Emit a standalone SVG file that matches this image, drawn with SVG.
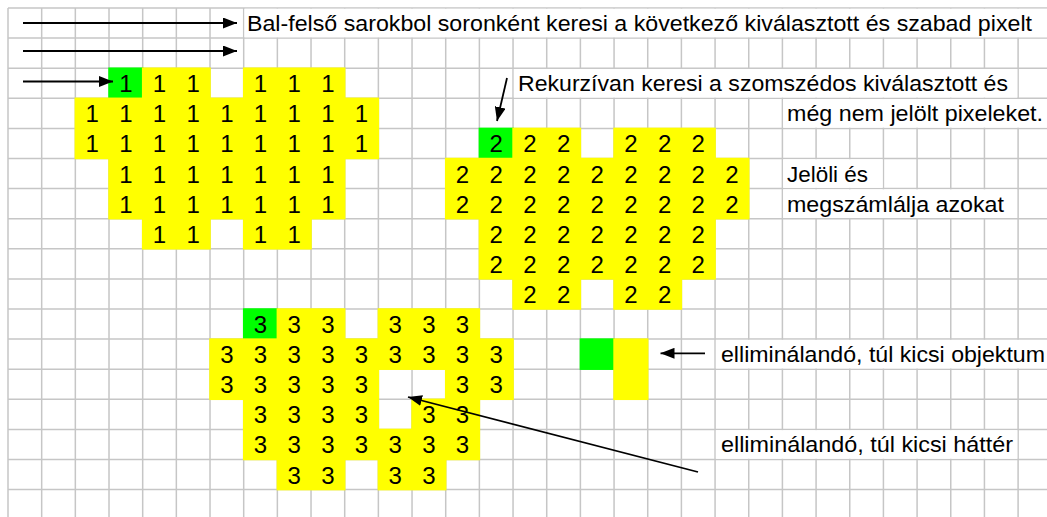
<svg xmlns="http://www.w3.org/2000/svg" width="1047" height="517" viewBox="0 0 1047 517">
<style>
.grid{stroke:#c6c6c6;stroke-width:1.5;fill:none}
.y{fill:#ffff00}
.g{fill:#00ff00}
.box{fill:#ffffff}
.d{font-family:"Liberation Sans",Arial,sans-serif;font-size:24px;fill:#000;text-anchor:middle}
.lbl{font-family:"Liberation Sans",Arial,sans-serif;font-size:22px;fill:#000}
.arr{stroke:#000;stroke-width:1.8;fill:none;marker-end:url(#ah)}
</style>
<defs>
<marker id="ah" markerUnits="userSpaceOnUse" markerWidth="14" markerHeight="11" refX="14" refY="5.5" orient="auto" viewBox="0 0 14 11"><path d="M0,0 L14,5.5 L0,11 Z" fill="#000"/></marker>
</defs>
<rect x="0" y="0" width="1047" height="517" fill="#ffffff"/>
<g id="grid" class="grid">
<path d="M8,8V517M41.67,8V517M75.34,8V517M109.01,8V517M142.68,8V517M176.35,8V517M210.02,8V517M243.69,8V517M277.36,8V517M311.03,8V517M344.7,8V517M378.37,8V517M412.04,8V517M445.71,8V517M479.38,8V517M513.05,8V517M546.72,8V517M580.39,8V517M614.06,8V517M647.73,8V517M681.4,8V517M715.07,8V517M748.74,8V517M782.41,8V517M816.08,8V517M849.75,8V517M883.42,8V517M917.09,8V517M950.76,8V517M984.43,8V517M1018.1,8V517"/>
<path d="M8,8H1047M8,38.1H1047M8,68.2H1047M8,98.3H1047M8,128.4H1047M8,158.5H1047M8,188.6H1047M8,218.7H1047M8,248.8H1047M8,278.9H1047M8,309H1047M8,339.1H1047M8,369.2H1047M8,399.3H1047M8,429.4H1047M8,459.5H1047M8,489.6H1047"/>
</g>
<g id="object1">
<rect class="g" x="108.26" y="67.45" width="35.17" height="31.6"/>
<rect class="y" x="141.93" y="67.45" width="68.84" height="31.6"/>
<rect class="y" x="242.94" y="67.45" width="102.51" height="31.6"/>
<rect class="y" x="74.59" y="97.55" width="304.53" height="61.7"/>
<rect class="y" x="108.26" y="157.75" width="237.19" height="61.7"/>
<rect class="y" x="141.93" y="217.95" width="68.84" height="31.6"/>
<rect class="y" x="242.94" y="217.95" width="68.84" height="31.6"/>
<text class="d" x="125.85" y="92.2">1</text><text class="d" x="159.52" y="92.2">1</text><text class="d" x="193.19" y="92.2">1</text><text class="d" x="260.53" y="92.2">1</text><text class="d" x="294.2" y="92.2">1</text><text class="d" x="327.87" y="92.2">1</text>
<text class="d" x="92.17" y="122.3">1</text><text class="d" x="125.85" y="122.3">1</text><text class="d" x="159.52" y="122.3">1</text><text class="d" x="193.19" y="122.3">1</text><text class="d" x="226.86" y="122.3">1</text><text class="d" x="260.53" y="122.3">1</text><text class="d" x="294.2" y="122.3">1</text><text class="d" x="327.87" y="122.3">1</text><text class="d" x="361.54" y="122.3">1</text>
<text class="d" x="92.17" y="152.4">1</text><text class="d" x="125.85" y="152.4">1</text><text class="d" x="159.52" y="152.4">1</text><text class="d" x="193.19" y="152.4">1</text><text class="d" x="226.86" y="152.4">1</text><text class="d" x="260.53" y="152.4">1</text><text class="d" x="294.2" y="152.4">1</text><text class="d" x="327.87" y="152.4">1</text><text class="d" x="361.54" y="152.4">1</text>
<text class="d" x="125.85" y="182.5">1</text><text class="d" x="159.52" y="182.5">1</text><text class="d" x="193.19" y="182.5">1</text><text class="d" x="226.86" y="182.5">1</text><text class="d" x="260.53" y="182.5">1</text><text class="d" x="294.2" y="182.5">1</text><text class="d" x="327.87" y="182.5">1</text>
<text class="d" x="125.85" y="212.6">1</text><text class="d" x="159.52" y="212.6">1</text><text class="d" x="193.19" y="212.6">1</text><text class="d" x="226.86" y="212.6">1</text><text class="d" x="260.53" y="212.6">1</text><text class="d" x="294.2" y="212.6">1</text><text class="d" x="327.87" y="212.6">1</text>
<text class="d" x="159.52" y="242.7">1</text><text class="d" x="193.19" y="242.7">1</text><text class="d" x="260.53" y="242.7">1</text><text class="d" x="294.2" y="242.7">1</text>
</g>
<g id="object2">
<rect class="g" x="478.63" y="127.65" width="35.17" height="31.6"/>
<rect class="y" x="512.3" y="127.65" width="68.84" height="31.6"/>
<rect class="y" x="613.31" y="127.65" width="102.51" height="31.6"/>
<rect class="y" x="444.96" y="157.75" width="304.53" height="61.7"/>
<rect class="y" x="478.63" y="217.95" width="237.19" height="61.7"/>
<rect class="y" x="512.3" y="278.15" width="68.84" height="31.6"/>
<rect class="y" x="613.31" y="278.15" width="68.84" height="31.6"/>
<text class="d" x="496.22" y="152.4">2</text><text class="d" x="529.89" y="152.4">2</text><text class="d" x="563.56" y="152.4">2</text><text class="d" x="630.9" y="152.4">2</text><text class="d" x="664.57" y="152.4">2</text><text class="d" x="698.24" y="152.4">2</text>
<text class="d" x="462.55" y="182.5">2</text><text class="d" x="496.22" y="182.5">2</text><text class="d" x="529.89" y="182.5">2</text><text class="d" x="563.56" y="182.5">2</text><text class="d" x="597.23" y="182.5">2</text><text class="d" x="630.9" y="182.5">2</text><text class="d" x="664.57" y="182.5">2</text><text class="d" x="698.24" y="182.5">2</text><text class="d" x="731.91" y="182.5">2</text>
<text class="d" x="462.55" y="212.6">2</text><text class="d" x="496.22" y="212.6">2</text><text class="d" x="529.89" y="212.6">2</text><text class="d" x="563.56" y="212.6">2</text><text class="d" x="597.23" y="212.6">2</text><text class="d" x="630.9" y="212.6">2</text><text class="d" x="664.57" y="212.6">2</text><text class="d" x="698.24" y="212.6">2</text><text class="d" x="731.91" y="212.6">2</text>
<text class="d" x="496.22" y="242.7">2</text><text class="d" x="529.89" y="242.7">2</text><text class="d" x="563.56" y="242.7">2</text><text class="d" x="597.23" y="242.7">2</text><text class="d" x="630.9" y="242.7">2</text><text class="d" x="664.57" y="242.7">2</text><text class="d" x="698.24" y="242.7">2</text>
<text class="d" x="496.22" y="272.8">2</text><text class="d" x="529.89" y="272.8">2</text><text class="d" x="563.56" y="272.8">2</text><text class="d" x="597.23" y="272.8">2</text><text class="d" x="630.9" y="272.8">2</text><text class="d" x="664.57" y="272.8">2</text><text class="d" x="698.24" y="272.8">2</text>
<text class="d" x="529.89" y="302.9">2</text><text class="d" x="563.56" y="302.9">2</text><text class="d" x="630.9" y="302.9">2</text><text class="d" x="664.57" y="302.9">2</text>
</g>
<g id="object3">
<rect class="g" x="242.94" y="308.25" width="35.17" height="31.6"/>
<rect class="y" x="276.61" y="308.25" width="68.84" height="31.6"/>
<rect class="y" x="377.62" y="308.25" width="102.51" height="31.6"/>
<rect class="y" x="209.27" y="338.35" width="304.53" height="31.6"/>
<rect class="y" x="209.27" y="368.45" width="169.85" height="31.6"/>
<rect class="y" x="444.96" y="368.45" width="68.84" height="31.6"/>
<rect class="y" x="242.94" y="398.55" width="136.18" height="31.6"/>
<rect class="y" x="411.29" y="398.55" width="68.84" height="31.6"/>
<rect class="y" x="242.94" y="428.65" width="237.19" height="31.6"/>
<rect class="y" x="276.61" y="458.75" width="68.84" height="31.6"/>
<rect class="y" x="377.62" y="458.75" width="68.84" height="31.6"/>
<text class="d" x="260.53" y="333">3</text><text class="d" x="294.2" y="333">3</text><text class="d" x="327.87" y="333">3</text><text class="d" x="395.21" y="333">3</text><text class="d" x="428.88" y="333">3</text><text class="d" x="462.55" y="333">3</text>
<text class="d" x="226.86" y="363.1">3</text><text class="d" x="260.53" y="363.1">3</text><text class="d" x="294.2" y="363.1">3</text><text class="d" x="327.87" y="363.1">3</text><text class="d" x="361.54" y="363.1">3</text><text class="d" x="395.21" y="363.1">3</text><text class="d" x="428.88" y="363.1">3</text><text class="d" x="462.55" y="363.1">3</text><text class="d" x="496.22" y="363.1">3</text>
<text class="d" x="226.86" y="393.2">3</text><text class="d" x="260.53" y="393.2">3</text><text class="d" x="294.2" y="393.2">3</text><text class="d" x="327.87" y="393.2">3</text><text class="d" x="361.54" y="393.2">3</text><text class="d" x="462.55" y="393.2">3</text><text class="d" x="496.22" y="393.2">3</text>
<text class="d" x="260.53" y="423.3">3</text><text class="d" x="294.2" y="423.3">3</text><text class="d" x="327.87" y="423.3">3</text><text class="d" x="361.54" y="423.3">3</text><text class="d" x="428.88" y="423.3">3</text><text class="d" x="462.55" y="423.3">3</text>
<text class="d" x="260.53" y="453.4">3</text><text class="d" x="294.2" y="453.4">3</text><text class="d" x="327.87" y="453.4">3</text><text class="d" x="361.54" y="453.4">3</text><text class="d" x="395.21" y="453.4">3</text><text class="d" x="428.88" y="453.4">3</text><text class="d" x="462.55" y="453.4">3</text>
<text class="d" x="294.2" y="483.5">3</text><text class="d" x="327.87" y="483.5">3</text><text class="d" x="395.21" y="483.5">3</text><text class="d" x="428.88" y="483.5">3</text>
</g>
<g id="small-object">
<rect class="g" x="579.64" y="338.35" width="35.17" height="31.6"/>
<rect class="y" x="613.31" y="338.35" width="35.17" height="61.7"/>
</g>
<g id="label-scan">
<rect class="box" x="244.44" y="8.75" width="802.56" height="28.6"/>
<text class="lbl" x="247" y="31" textLength="785" lengthAdjust="spacingAndGlyphs">Bal-felső sarokbol soronként keresi a következő kiválasztott és szabad pixelt</text>
</g>
<g id="label-recursive">
<rect class="box" x="513.8" y="68.95" width="503.55" height="28.6"/>
<text class="lbl" x="518" y="91.2" textLength="490" lengthAdjust="spacingAndGlyphs">Rekurzívan keresi a szomszédos kiválasztott és</text>
<rect class="box" x="783.16" y="99.05" width="263.84" height="28.6"/>
<text class="lbl" x="787" y="121.3" textLength="256" lengthAdjust="spacingAndGlyphs">még nem jelölt pixeleket.</text>
</g>
<g id="label-mark">
<rect class="box" x="783.16" y="159.25" width="99.51" height="28.6"/>
<text class="lbl" x="787" y="181.5" textLength="81" lengthAdjust="spacingAndGlyphs">Jelöli és</text>
<rect class="box" x="783.16" y="189.35" width="233.94" height="28.6"/>
<text class="lbl" x="787" y="211.6" textLength="217" lengthAdjust="spacingAndGlyphs">megszámlálja azokat</text>
</g>
<g id="label-small-object">
<rect class="box" x="715.82" y="339.85" width="331.18" height="28.6"/>
<text class="lbl" x="721" y="362.1" textLength="324" lengthAdjust="spacingAndGlyphs">elliminálandó, túl kicsi objektum</text>
</g>
<g id="label-small-background">
<rect class="box" x="715.82" y="430.15" width="301.53" height="28.6"/>
<text class="lbl" x="721" y="452.4" textLength="292" lengthAdjust="spacingAndGlyphs">elliminálandó, túl kicsi háttér</text>
</g>
<g id="connectors">
<path class="arr" d="M23,23H237"/>
<path class="arr" d="M23,51H237"/>
<path class="arr" d="M23,81.5H113"/>
<path class="arr" d="M507,78L497,121"/>
<path class="arr" d="M705,353.3H660.5"/>
<path class="arr" d="M698,472L408,397"/>
</g>
</svg>
